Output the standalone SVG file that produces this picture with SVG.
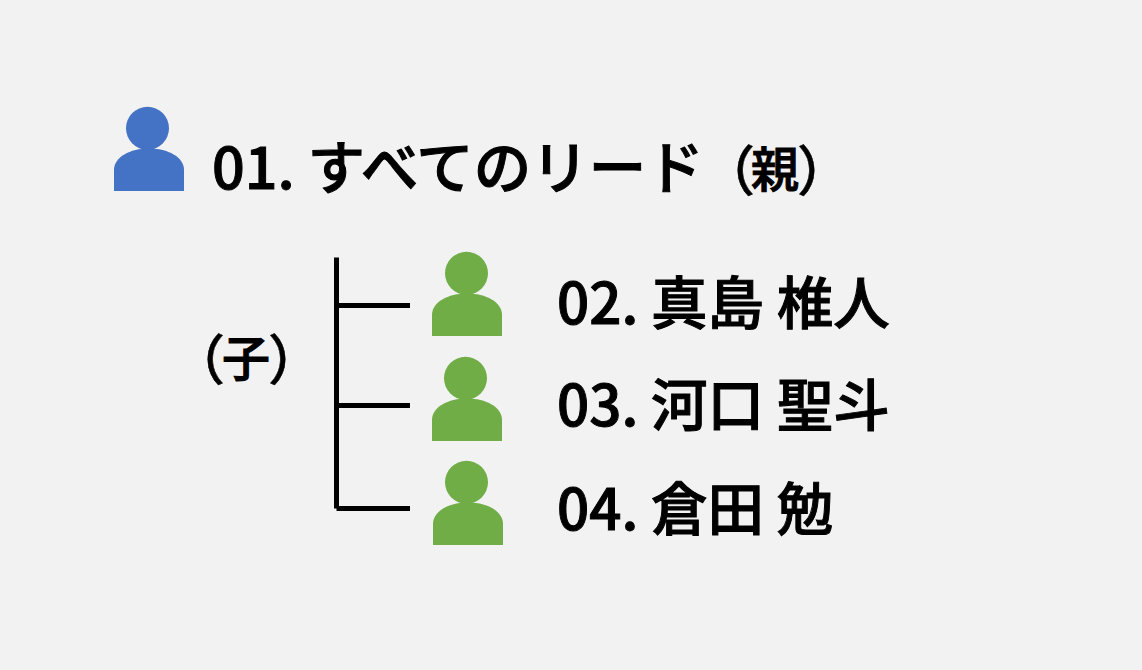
<svg xmlns="http://www.w3.org/2000/svg" width="1142" height="670" viewBox="0 0 1142 670">
<style>
text{font-family:"Noto Sans CJK JP","Noto Sans",sans-serif;font-weight:500;fill:#000;stroke:#000;stroke-width:1}
.h{font-size:57.500px}
.t{font-size:56.500px}
.p{font-size:48px}
.b{font-size:54px;stroke-width:.5px;font-feature-settings:"palt"}
.blue{fill:#4472c4}
.green{fill:#70ad47}
.ln{stroke:#000;stroke-width:5;fill:none}
</style>
<defs>
<circle id="head" cx="33.500" cy="21.300" r="21.500"/>
<path id="body" d="M0 84V63C0 50 16 41.500 35 41.500S70 50 70 63V84Z"/>
</defs>
<rect width="1142" height="670" fill="#f2f2f2"/>
<g id="connectors">
<path class="ln" d="M336.500 257.500V508.500M336.500 305.500H410M336.500 405.500H410M336.500 508.500H410"/>
</g>
<g id="parent"><g class="blue" transform="translate(114 107)"><use href="#head"/><use href="#body"/></g><text class="h" x="212" y="189">01. すべてのリード</text><text class="p" y="187"><tspan class="b" x="726" y="190.500">（</tspan><tspan x="751" y="187">親</tspan><tspan class="b" x="799" y="190.500">）</tspan></text></g>
<g id="child-label"><text class="p" y="376"><tspan class="b" x="196" y="380">（</tspan><tspan x="222" y="376">子</tspan><tspan class="b" x="270" y="380">）</tspan></text></g>
<g id="n02"><g class="green" transform="translate(432 252)"><use href="#head" x="1"/><use href="#body"/></g><text class="t" x="557" y="324">02. 真島 椎人</text></g>
<g id="n03"><g class="green" transform="translate(432 357)"><use href="#head"/><use href="#body"/></g><text class="t" x="557" y="426">03. 河口 聖斗</text></g>
<g id="n04"><g class="green" transform="translate(433 461)"><use href="#head"/><use href="#body"/></g><text class="t" x="557" y="530">04. 倉田 勉</text></g>
</svg>
